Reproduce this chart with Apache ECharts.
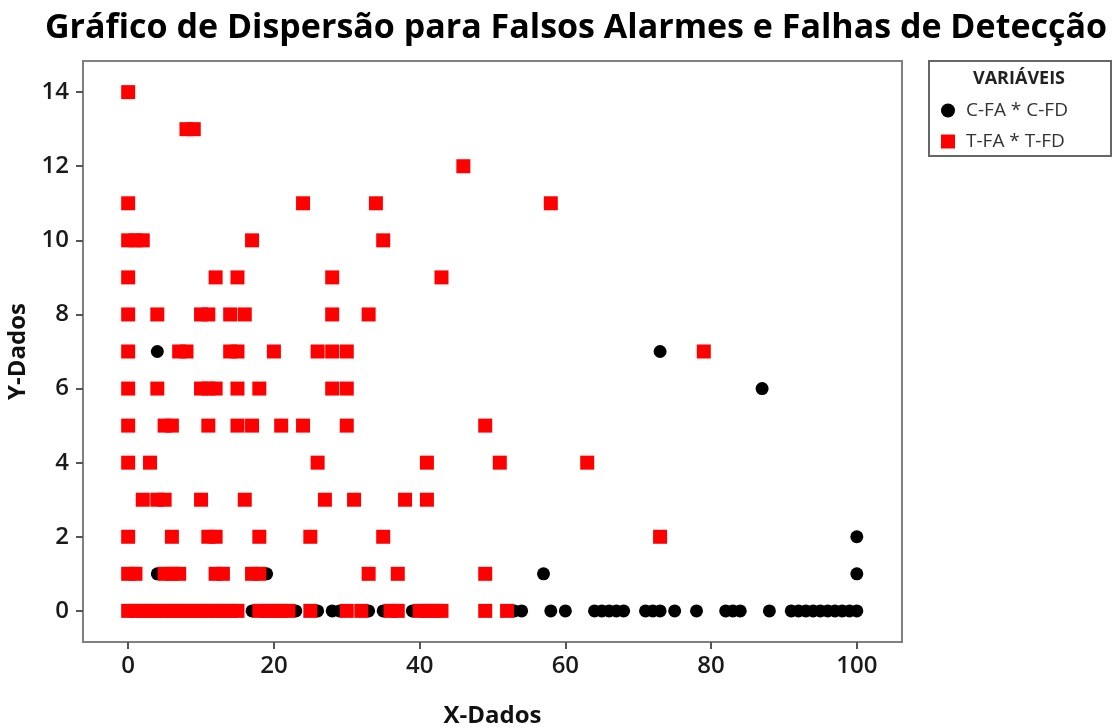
<!DOCTYPE html>
<html>
<head>
<meta charset="utf-8">
<script src="https://cdn.jsdelivr.net/npm/echarts@6/dist/echarts.min.js"></script>
<style>
  html, body { margin: 0; padding: 0; background: #ffffff; }
  #chart { width: 1118px; height: 727px; }
</style>
</head>
<body>
<div id="chart"></div>
<script>
// C-FA * C-FD (black circles)
const cfaX = [4, 73, 87, 100, 4, 19, 57, 100,
  17, 23, 26, 28, 29, 33, 35, 39, 53, 54, 58, 60, 64, 65, 66, 67, 68,
  71, 72, 73, 75, 78, 82, 83, 84, 88, 91, 92, 93, 94, 95, 96, 97, 98, 99, 100];
const cfdY = [7, 7, 6, 2, 1, 1, 1, 1,
  0, 0, 0, 0, 0, 0, 0, 0, 0, 0, 0, 0, 0, 0, 0, 0, 0,
  0, 0, 0, 0, 0, 0, 0, 0, 0, 0, 0, 0, 0, 0, 0, 0, 0, 0, 0];

// T-FA * T-FD (red squares)
const tfaX = [
  0,
  8, 9,
  46,
  0, 24, 34, 58,
  0, 1, 2, 17, 35,
  0, 12, 15, 28, 43,
  0, 4, 10, 11, 14, 16, 28, 33,
  0, 7, 8, 14, 15, 20, 26, 28, 30, 79,
  0, 4, 10, 11, 12, 15, 18, 28, 30,
  0, 5, 6, 11, 15, 17, 21, 24, 30, 49,
  0, 3, 26, 41, 51, 63,
  2, 4, 5, 10, 16, 27, 31, 38, 41,
  0, 6, 11, 12, 18, 25, 35, 73,
  0, 1, 5, 6, 7, 12, 13, 17, 18, 33, 37, 49,
  0, 1, 2, 3, 4, 5, 6, 7, 8, 9, 10, 11, 12, 13, 14, 15,
  18, 19, 20, 21, 22, 25, 30, 32, 36, 37, 40, 41, 42, 43, 49, 52
];
const tfdY = [
  14,
  13, 13,
  12,
  11, 11, 11, 11,
  10, 10, 10, 10, 10,
  9, 9, 9, 9, 9,
  8, 8, 8, 8, 8, 8, 8, 8,
  7, 7, 7, 7, 7, 7, 7, 7, 7, 7,
  6, 6, 6, 6, 6, 6, 6, 6, 6,
  5, 5, 5, 5, 5, 5, 5, 5, 5, 5,
  4, 4, 4, 4, 4, 4,
  3, 3, 3, 3, 3, 3, 3, 3, 3,
  2, 2, 2, 2, 2, 2, 2, 2,
  1, 1, 1, 1, 1, 1, 1, 1, 1, 1, 1, 1,
  0, 0, 0, 0, 0, 0, 0, 0, 0, 0, 0, 0, 0, 0, 0, 0,
  0, 0, 0, 0, 0, 0, 0, 0, 0, 0, 0, 0, 0, 0, 0, 0
];

const xTicks = [0, 20, 40, 60, 80, 100];
const yTicks = [0, 2, 4, 6, 8, 10, 12, 14];

const zip = (xs, ys) => xs.map((x, i) => [x, ys[i]]);

const font = '"Open Sans", "DejaVu Sans", sans-serif';
const chart = echarts.init(document.getElementById('chart'), null, { renderer: 'canvas' });

chart.setOption({
  backgroundColor: '#ffffff',
  animation: false,
  title: {
    text: 'Gráfico de Dispersão para Falsos Alarmes e Falhas de Detecção',
    left: 571, textAlign: 'center', top: 6,
    textStyle: { fontFamily: font, fontWeight: 'bold', fontSize: 34, color: '#000000' }
  },
  legend: {
    orient: 'vertical',
    left: 936, top: 96,
    itemWidth: 14, itemHeight: 14, itemGap: 12,
    textStyle: { fontFamily: font, fontSize: 19, color: '#333333', padding: [0, 0, 0, 6] },
    data: [
      { name: 'C-FA * C-FD', icon: 'circle' },
      { name: 'T-FA * T-FD', icon: 'rect' }
    ]
  },
  graphic: [
    {
      type: 'rect', left: 928, top: 60, z: -1,
      shape: { width: 182, height: 95 },
      style: { fill: '#ffffff', stroke: '#666666', lineWidth: 2 }
    },
    {
      type: 'text', left: 973, top: 70,
      style: { text: 'VARIÁVEIS', fontFamily: font, fontWeight: 'bold', fontSize: 18, fill: '#222222' }
    }
  ],
  grid: {
    left: 83, top: 61, right: 216, bottom: 85,
    outerBoundsMode: 'none',
    containLabel: false,
    show: true, borderColor: '#808080', borderWidth: 2, backgroundColor: '#ffffff'
  },
  xAxis: {
    type: 'value', min: -6.2, max: 106.2,
    name: 'X-Dados', nameLocation: 'middle', nameGap: 62,
    nameTextStyle: { fontFamily: font, fontWeight: 'bold', fontSize: 24, color: '#111111' },
    axisLine: { show: false, onZero: false },
    splitLine: { show: false },
    axisTick: { show: true, length: 7, customValues: xTicks, lineStyle: { color: '#555555', width: 2 } },
    axisLabel: { customValues: xTicks, margin: 12, fontFamily: font, fontWeight: 600, fontSize: 24, color: '#1a1a1a' }
  },
  yAxis: {
    type: 'value', min: -0.84, max: 14.84,
    name: 'Y-Dados', nameLocation: 'middle', nameGap: 48, nameRotate: 90,
    nameTextStyle: { fontFamily: font, fontWeight: 'bold', fontSize: 24, color: '#111111' },
    axisLine: { show: false, onZero: false },
    splitLine: { show: false },
    axisTick: { show: true, length: 7, customValues: yTicks, lineStyle: { color: '#555555', width: 2 } },
    axisLabel: { customValues: yTicks, margin: 14, fontFamily: font, fontWeight: 600, fontSize: 24, color: '#1a1a1a' }
  },
  series: [
    {
      name: 'C-FA * C-FD', type: 'scatter', symbol: 'circle', symbolSize: 13,
      itemStyle: { color: '#000000', opacity: 1 },
      data: zip(cfaX, cfdY)
    },
    {
      name: 'T-FA * T-FD', type: 'scatter', symbol: 'rect', symbolSize: 14,
      itemStyle: { color: '#ff0000', opacity: 1 },
      data: zip(tfaX, tfdY)
    }
  ]
});
</script>
</body>
</html>
